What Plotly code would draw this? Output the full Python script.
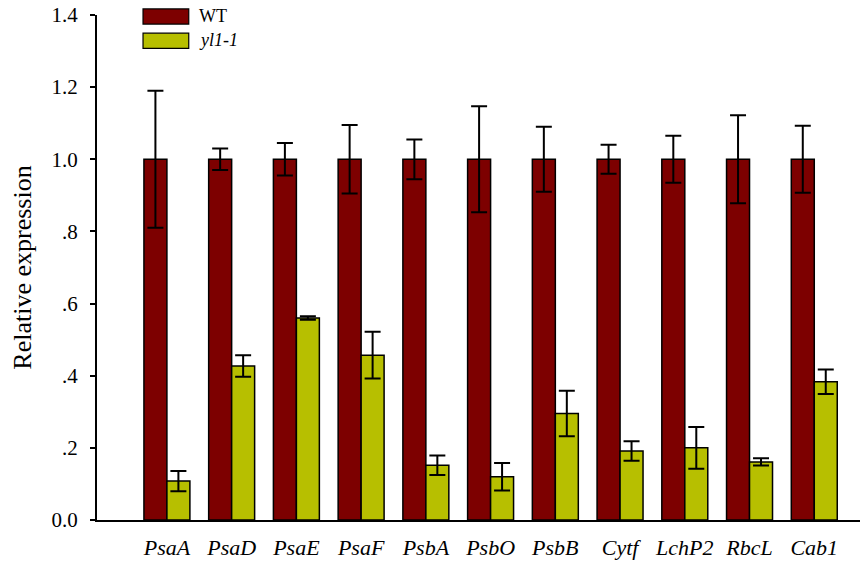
import plotly.graph_objects as go

genes = ["PsaA", "PsaD", "PsaE", "PsaF", "PsbA", "PsbO", "PsbB", "Cytf", "LchP2", "RbcL", "Cab1"]
wt_vals = [1.0, 1.0, 1.0, 1.0, 1.0, 1.0, 1.0, 1.0, 1.0, 1.0, 1.0]
wt_err = [0.19, 0.03, 0.045, 0.095, 0.055, 0.147, 0.09, 0.04, 0.065, 0.122, 0.093]
yl_vals = [0.108, 0.427, 0.56, 0.457, 0.152, 0.12, 0.295, 0.191, 0.2, 0.161, 0.383]
yl_err = [0.028, 0.03, 0.005, 0.065, 0.027, 0.038, 0.063, 0.027, 0.058, 0.01, 0.034]
ytick_vals = [0.0, 0.2, 0.4, 0.6, 0.8, 1.0, 1.2, 1.4]
ytick_text = ["0.0", ".2", ".4", ".6", ".8", "1.0", "1.2", "1.4"]

WT_COLOR = "#7d0000"
YL_COLOR = "#b7bf00"
FONT = "Liberation Serif"

fig = go.Figure()
fig.add_trace(go.Bar(
    name="WT", x=genes, y=wt_vals,
    marker=dict(color=WT_COLOR, line=dict(color="black", width=1.5)),
    error_y=dict(type="data", array=wt_err, visible=True, color="black", thickness=2, width=8),
))
fig.add_trace(go.Bar(
    name="yl1-1", x=genes, y=yl_vals,
    marker=dict(color=YL_COLOR, line=dict(color="black", width=1.5)),
    error_y=dict(type="data", array=yl_err, visible=True, color="black", thickness=2, width=8),
))

# custom legend (swatches + labels)
legend_items = [("WT", WT_COLOR, False), ("yl1-1", YL_COLOR, True)]
legend_top = [1.012, 0.964]
for (label, col, ital), y1 in zip(legend_items, legend_top):
    fig.add_shape(type="rect", xref="paper", yref="paper",
                  x0=0.0597, x1=0.119, y0=y1 - 0.030, y1=y1,
                  fillcolor=col, line=dict(color="black", width=1.2))
    fig.add_annotation(xref="paper", yref="paper", x=0.131, y=y1 - 0.013,
                       text=f"<i>{label}</i>" if ital else label, showarrow=False,
                       xanchor="left", yanchor="middle", borderpad=0,
                       font=dict(family=FONT, size=18, color="black"))

# page body has an 8px default margin, so the figure is sized to end at the window edge
fig.update_layout(
    width=860, height=555,
    margin=dict(l=89, r=0, t=7, b=43),
    paper_bgcolor="white", plot_bgcolor="white",
    barmode="group", bargap=0.29, bargroupgap=0,
    showlegend=False,
    font=dict(family=FONT, color="black"),
)
fig.update_xaxes(
    range=[-1.08, 10.83], showline=True, linecolor="black", linewidth=2,
    ticks="", showgrid=False, zeroline=False, automargin=False,
    tickfont=dict(family=FONT, size=22, color="black", style="italic"),
    ticklabelstandoff=7,
)
fig.update_yaxes(
    range=[0, 1.4], tickvals=ytick_vals, ticktext=ytick_text,
    showline=True, linecolor="black", linewidth=2, automargin=False,
    ticks="outside", ticklen=5, tickwidth=1.5, tickcolor="black",
    showgrid=False, zeroline=False, ticklabelstandoff=8, ticklabeloverflow="allow",
    tickfont=dict(family=FONT, size=21, color="black"),
    title=dict(text="Relative expression", font=dict(family=FONT, size=26, color="black"), standoff=14),
)

fig.write_html("out.html")
